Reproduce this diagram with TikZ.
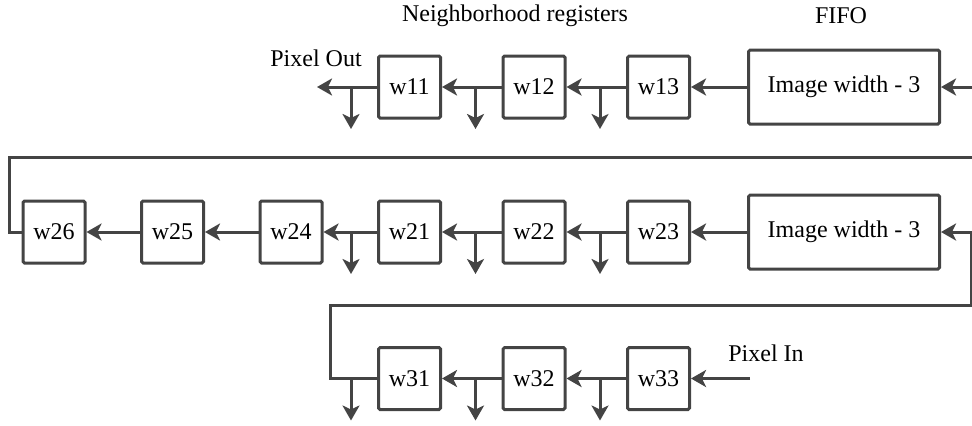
\documentclass[tikz,border=0pt]{standalone}
\usepackage{fontspec}
\setmainfont{Liberation Serif}
\usetikzlibrary{positioning, arrows.meta}
\definecolor{linegray}{HTML}{444444}

\begin{document}
\begin{tikzpicture}[
x=0.5pt, y=-0.5pt,
reg/.style={rectangle, draw=linegray, line width=1.5pt, fill=white, rounded corners=0.8pt, minimum width=31pt, minimum height=31pt, inner sep=0pt, font=\fontsize{12}{14}\selectfont},
fifo/.style={reg, minimum width=95.5pt, minimum height=37pt},
lbl/.style={inner sep=0pt, font=\fontsize{12}{14}\selectfont},
line/.style={draw=linegray, line width=1.5pt},
arrow/.style={line, -{Stealth[length=7.5pt, width=8.5pt, inset=2pt]}}
]
\useasboundingbox (0,0) rectangle (972,425);

\node[lbl] (regtitle) at (515,16) {Neighborhood registers};
\node[lbl] (fifotitle) at (841,16) {FIFO};

% first line
\node[fifo] (fifoA) at (844,87) {Image width - 3};
\node[reg, left=28pt of fifoA] (w13) {w13};
\node[reg, left=29.75pt of w13] (w12) {w12};
\node[reg, left=29.75pt of w12] (w11) {w11};

% second line
\node[fifo, below=34pt of fifoA] (fifoB) {Image width - 3};
\node[reg, left=28pt of fifoB] (w23) {w23};
\node[reg, left=29.75pt of w23] (w22) {w22};
\node[reg, left=29.75pt of w22] (w21) {w21};
\node[reg, left=26.75pt of w21] (w24) {w24};
\node[reg, left=26.75pt of w24] (w25) {w25};
\node[reg, left=26.75pt of w25] (w26) {w26};

% third line
\node[reg, below=40.75pt of w23] (w33) {w33};
\node[reg, left=29.75pt of w33] (w32) {w32};
\node[reg, left=29.75pt of w32] (w31) {w31};

\coordinate[right=16pt of fifoA.east] (inA);
\coordinate[left=30pt of w11.west] (pout);
\coordinate (wrapA) at (972,157);
\coordinate (cornerA) at (9,157);
\coordinate (cornerB) at (330,305);
\coordinate (cornerC) at (971,305);
\coordinate[right=29.5pt of w33.east] (pin);

\node[lbl] (pouttxt) at (316,58) {Pixel Out};
\node[lbl] (pintxt) at (766,353) {Pixel In};

\draw[arrow] (inA) -- (fifoA);
\draw[arrow] (fifoA) -- (w13);
\draw[arrow] (w13) -- (w12);
\draw[arrow] (w12) -- (w11);
\draw[arrow] (w11) -- (pout);

\draw[line] (wrapA) -- (cornerA) |- (w26.west);
\draw[arrow] (fifoB) -- (w23);
\draw[arrow] (w23) -- (w22);
\draw[arrow] (w22) -- (w21);
\draw[arrow] (w21) -- (w24);
\draw[arrow] (w24) -- (w25);
\draw[arrow] (w25) -- (w26);

\draw[arrow] (pin) -- (w33);
\draw[arrow] (w33) -- (w32);
\draw[arrow] (w32) -- (w31);
\draw[arrow] (w31.west) -| (cornerB) -- (cornerC) |- (fifoB.east);

% taps to the window
\foreach \r in {11,12,13,21,22,23,31,32,33} {
  \coordinate[left=13pt of w\r.west] (t\r);
  \coordinate[below=21pt of t\r] (e\r);
  \draw[arrow] (t\r) -- (e\r);
}

\end{tikzpicture}
\end{document}
